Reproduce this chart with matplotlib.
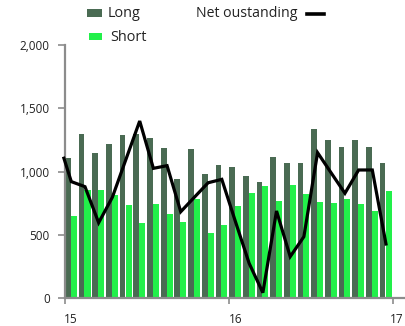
import numpy as np
import matplotlib
matplotlib.use("Agg")
import matplotlib.pyplot as plt
from matplotlib.patches import Rectangle
from matplotlib.lines import Line2D

plt.rcParams['font.family'] = ['Open Sans', 'DejaVu Sans']

# monthly issuance, Jan 2015 - Dec 2016
long_vals = [1109, 1294, 1149, 1215, 1289, 1294, 1265, 1183, 941, 1175, 978, 1049,
             1038, 967, 917, 1112, 1070, 1070, 1339, 1249, 1196, 1249, 1196, 1070]
short_vals = [651, 854, 854, 814, 735, 590, 743, 661, 598, 780, 516, 580,
              725, 833, 885, 769, 896, 825, 762, 751, 780, 743, 690, 843]
# net outstanding, first value is the opening level at the start of 2015
net_start = 1105
net_vals = [920, 880, 595, 796, 1098, 1399, 1025, 1046, 682, 797, 911, 938,
            603, 274, 42, 688, 327, 485, 1149, 988, 828, 1012, 1012, 427]
year_labels = ['15', '16', '17']

dark = '#4a6b53'
bright = '#22f04a'
grey = '#8c8c8c'

fig = plt.figure(figsize=(4.05, 3.26), dpi=100)
ax = fig.add_axes([65 / 405, 1 - 298 / 326, 340 / 405, 253 / 326])

m = np.arange(len(long_vals))
ax.bar(m + 0.21, long_vals, width=0.42, color=dark, zorder=2)
ax.bar(m + 0.645, short_vals, width=0.44, color=bright, zorder=2)

line_x = np.concatenate([[-0.08], m + 0.46])
line_y = [net_start] + net_vals
ax.plot(line_x, line_y, color='black', lw=2.3, zorder=3, clip_on=False,
        solid_joinstyle='miter')

ax.set_xlim(0, 24.85)
ax.set_ylim(0, 2000)

ax.set_yticks([0, 500, 1000, 1500, 2000])
ax.set_yticklabels(['0', '500', '1,000', '1,500', '2,000'])
ax.set_xticks([0, 12, 24])
ax.set_xticklabels([])
# year labels sit a little to the right of their ticks
ax.set_xticks([0.45, 12.5, 24.25], minor=True)
ax.set_xticklabels(year_labels, minor=True)

ax.tick_params(axis='y', length=5, width=1.2, color=grey, pad=6,
               labelsize=8.5, labelcolor='#222222')
ax.tick_params(axis='x', which='major', length=4, width=1.2, color=grey)
ax.tick_params(axis='x', which='minor', length=0, pad=11,
               labelsize=8.5, labelcolor='#222222')

for s in ['top', 'right']:
    ax.spines[s].set_visible(False)
for s in ['left', 'bottom']:
    ax.spines[s].set_color(grey)
    ax.spines[s].set_linewidth(1.6)

# legend drawn by hand in pixel positions
def px(x, y):
    return x / 405, 1 - y / 326

fig.add_artist(Rectangle(px(87, 16.7), 15 / 405, 7.4 / 326,
                         transform=fig.transFigure, color=dark, lw=0))
fig.add_artist(Rectangle(px(89, 40), 13 / 405, 7.3 / 326,
                         transform=fig.transFigure, color=bright, lw=0))
fig.text(*px(108, 13.5), 'Long', fontsize=10.4, va='center', ha='left', color='#222222')
fig.text(*px(110, 37.5), 'Short', fontsize=10.4, va='center', ha='left', color='#222222')
fig.text(*px(196, 13.5), 'Net oustanding', fontsize=10.2, va='center', ha='left',
         color='#222222')
fig.add_artist(Line2D([307 / 405, 324 / 405], [1 - 13.5 / 326, 1 - 13.5 / 326],
                      transform=fig.transFigure, color='black', lw=2.6))

fig.savefig('out.png', dpi=100)
